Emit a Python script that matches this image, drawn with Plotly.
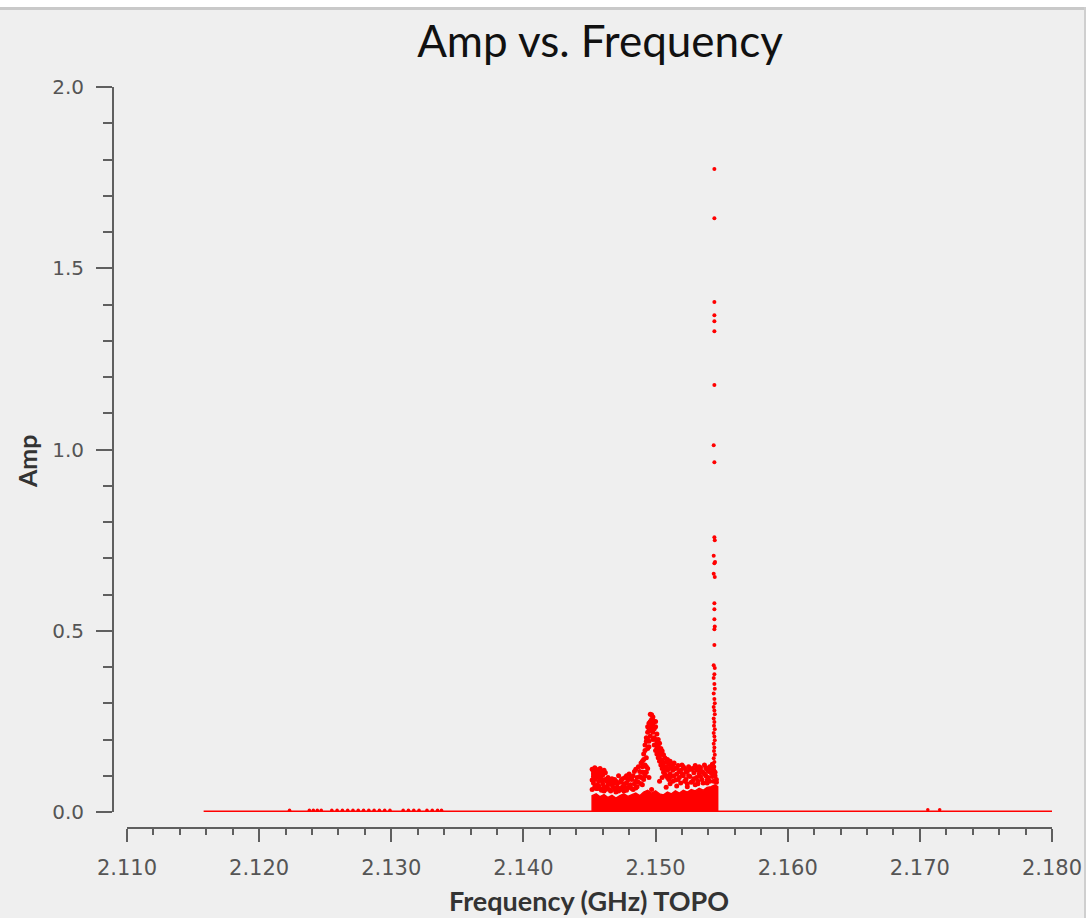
import plotly.graph_objects as go

W, H = 1089, 918

# ---------------- data ----------------
baseline_freq = [2.1158, 2.1800]
baseline_amp = [0.0, 0.0]

low_freq = [2.1223, 2.1238, 2.1241, 2.1244, 2.1247, 2.1255, 2.1259, 2.1263, 2.1267,
            2.1271, 2.1275, 2.1279, 2.1283, 2.1287, 2.1291, 2.1295, 2.1299, 2.1309,
            2.1313, 2.1317, 2.1321, 2.1327, 2.1331, 2.1335, 2.1338, 2.1706, 2.1715]
low_amp = [0.005, 0.005, 0.005, 0.005, 0.005, 0.005, 0.005, 0.005, 0.005,
           0.005, 0.005, 0.005, 0.005, 0.005, 0.005, 0.005, 0.005, 0.005,
           0.005, 0.005, 0.005, 0.005, 0.005, 0.005, 0.005, 0.006, 0.006]

band_freq = [2.1452, 2.1452, 2.1455, 2.1458, 2.1461, 2.1464, 2.1467, 2.1470, 2.1473,
             2.1476, 2.1479, 2.1482, 2.1485, 2.1488, 2.1491, 2.1494, 2.1497, 2.1500,
             2.1503, 2.1506, 2.1509, 2.1512, 2.1515, 2.1518, 2.1521, 2.1524, 2.1527,
             2.1530, 2.1533, 2.1536, 2.1539, 2.1542, 2.1545, 2.1547, 2.1547]
band_amp = [0.000, 0.045, 0.050, 0.042, 0.048, 0.040, 0.046, 0.038, 0.045,
            0.050, 0.043, 0.048, 0.052, 0.045, 0.055, 0.060, 0.052, 0.058,
            0.050, 0.047, 0.055, 0.050, 0.058, 0.052, 0.060, 0.055, 0.062,
            0.058, 0.065, 0.060, 0.068, 0.070, 0.075, 0.070, 0.000]

cloud_freq = [2.1452, 2.1453, 2.1454, 2.1455, 2.1456, 2.1457, 2.1458, 2.1459, 2.1460,
              2.1461, 2.1462, 2.1463, 2.1453, 2.1455, 2.1457, 2.1459, 2.1461, 2.1464,
              2.1465, 2.1466, 2.1467, 2.1468, 2.1469, 2.1470, 2.1471, 2.1472, 2.1473,
              2.1474, 2.1475, 2.1476, 2.1477, 2.1478, 2.1479, 2.1480, 2.1481, 2.1482,
              2.1483, 2.1484, 2.1485, 2.1486, 2.1487, 2.1488, 2.1489, 2.1490, 2.1490,
              2.1491, 2.1491, 2.1492, 2.1492, 2.1493, 2.1493, 2.1494, 2.1494, 2.1495,
              2.1495, 2.1496, 2.1496, 2.1497, 2.1497, 2.1498, 2.1498, 2.1499, 2.1499,
              2.1500, 2.1500, 2.1501, 2.1501, 2.1502, 2.1502, 2.1503, 2.1503, 2.1504,
              2.1504, 2.1505, 2.1505, 2.1506, 2.1506, 2.1507, 2.1508, 2.1508, 2.1509,
              2.1510, 2.1510, 2.1511, 2.1512, 2.1513, 2.1513, 2.1514, 2.1515, 2.1516,
              2.1517, 2.1518, 2.1519, 2.1520, 2.1521, 2.1522, 2.1523, 2.1524, 2.1525,
              2.1526, 2.1527, 2.1528, 2.1529, 2.1530, 2.1531, 2.1532, 2.1533, 2.1534,
              2.1535, 2.1536, 2.1537, 2.1538, 2.1539, 2.1540, 2.1541, 2.1542, 2.1543,
              2.1544, 2.1545, 2.1546, 2.1494, 2.1493, 2.1492, 2.1495, 2.1503, 2.1505,
              2.1456, 2.1470, 2.1478, 2.1485, 2.1497, 2.1508, 2.1516, 2.1524, 2.1532,
              2.1539, 2.1544]
cloud_amp = [0.118, 0.105, 0.122, 0.095, 0.112, 0.085, 0.120, 0.100, 0.078,
             0.115, 0.090, 0.070, 0.080, 0.065, 0.072, 0.060, 0.058, 0.095,
             0.062, 0.082, 0.075, 0.068, 0.090, 0.060, 0.078, 0.100, 0.065,
             0.088, 0.070, 0.058, 0.095, 0.080, 0.066, 0.105, 0.075, 0.090,
             0.062, 0.112, 0.085, 0.070, 0.125, 0.098, 0.078, 0.140, 0.110,
             0.160, 0.090, 0.185, 0.130, 0.205, 0.150, 0.220, 0.175, 0.245,
             0.195, 0.270, 0.210, 0.255, 0.230, 0.262, 0.200, 0.250, 0.185,
             0.235, 0.170, 0.215, 0.160, 0.200, 0.150, 0.190, 0.140, 0.175,
             0.130, 0.168, 0.120, 0.158, 0.110, 0.150, 0.138, 0.100, 0.145,
             0.132, 0.090, 0.140, 0.125, 0.115, 0.085, 0.135, 0.120, 0.105,
             0.128, 0.095, 0.115, 0.130, 0.100, 0.120, 0.090, 0.112, 0.125,
             0.098, 0.118, 0.085, 0.108, 0.128, 0.095, 0.115, 0.105, 0.122,
             0.090, 0.110, 0.130, 0.100, 0.118, 0.095, 0.125, 0.108, 0.132,
             0.115, 0.100, 0.090, 0.120, 0.110, 0.100, 0.095, 0.085, 0.095,
             0.065, 0.055, 0.060, 0.066, 0.062, 0.068, 0.072, 0.070, 0.078,
             0.080, 0.085]

cloud2_freq = [2.1452, 2.1452, 2.1453, 2.1453, 2.1454, 2.1454, 2.1455, 2.1455, 2.1456,
               2.1456, 2.1457, 2.1458, 2.1458, 2.1459, 2.1460, 2.1460, 2.1461, 2.1462,
               2.1462, 2.1463, 2.1464, 2.1465, 2.1466, 2.1467, 2.1468, 2.1469, 2.1470,
               2.1471, 2.1472, 2.1473, 2.1474, 2.1475, 2.1476, 2.1477, 2.1478, 2.1479,
               2.1480, 2.1481, 2.1482, 2.1483, 2.1484, 2.1485, 2.1486, 2.1487, 2.1488,
               2.1489, 2.1489, 2.1490, 2.1490, 2.1491, 2.1491, 2.1492, 2.1492, 2.1493,
               2.1493, 2.1494, 2.1494, 2.1495, 2.1495, 2.1496, 2.1496, 2.1497, 2.1497,
               2.1498, 2.1498, 2.1499, 2.1499, 2.1500, 2.1500, 2.1501, 2.1501, 2.1502,
               2.1502, 2.1503, 2.1503, 2.1504, 2.1504, 2.1505, 2.1506, 2.1506, 2.1507,
               2.1507, 2.1508, 2.1509, 2.1509, 2.1510, 2.1511, 2.1511, 2.1512, 2.1513,
               2.1514, 2.1515, 2.1516, 2.1517, 2.1518, 2.1519, 2.1520, 2.1521, 2.1522,
               2.1523, 2.1524, 2.1525, 2.1526, 2.1527, 2.1528, 2.1529, 2.1530, 2.1531,
               2.1532, 2.1533, 2.1534, 2.1535, 2.1536, 2.1537, 2.1538, 2.1539, 2.1540,
               2.1541, 2.1542, 2.1543, 2.1544, 2.1545, 2.1546]
cloud2_amp = [0.062, 0.088, 0.098, 0.112, 0.070, 0.090, 0.108, 0.118, 0.075,
              0.098, 0.105, 0.065, 0.092, 0.113, 0.088, 0.102, 0.068, 0.108,
              0.062, 0.085, 0.075, 0.088, 0.058, 0.092, 0.080, 0.062, 0.085,
              0.068, 0.058, 0.082, 0.062, 0.092, 0.078, 0.068, 0.100, 0.088,
              0.070, 0.095, 0.065, 0.100, 0.078, 0.118, 0.095, 0.082, 0.112,
              0.135, 0.095, 0.125, 0.075, 0.145, 0.110, 0.170, 0.100, 0.195,
              0.125, 0.235, 0.200, 0.230, 0.180, 0.250, 0.225, 0.268, 0.240,
              0.245, 0.220, 0.230, 0.205, 0.250, 0.200, 0.190, 0.175, 0.185,
              0.165, 0.165, 0.155, 0.160, 0.145, 0.140, 0.135, 0.125, 0.120,
              0.105, 0.125, 0.115, 0.095, 0.120, 0.105, 0.078, 0.098, 0.130,
              0.100, 0.088, 0.122, 0.090, 0.112, 0.080, 0.105, 0.125, 0.085,
              0.110, 0.078, 0.100, 0.118, 0.082, 0.120, 0.092, 0.075, 0.118,
              0.085, 0.125, 0.098, 0.112, 0.080, 0.105, 0.122, 0.088, 0.112,
              0.085, 0.120, 0.098, 0.125, 0.110, 0.082]

spike_freq = [2.15445, 2.15445, 2.15445, 2.15445, 2.15445, 2.15445, 2.15445, 2.15440,
              2.15445, 2.15445, 2.15448, 2.15440, 2.15450, 2.15445, 2.15440, 2.15448,
              2.15445, 2.15445, 2.15445, 2.15448, 2.15445, 2.15445, 2.15440, 2.15448,
              2.15445, 2.15440, 2.15445, 2.15448, 2.15440, 2.15445, 2.15448, 2.15440,
              2.15445, 2.15448, 2.15440, 2.15445, 2.15442, 2.15448, 2.15440, 2.15445,
              2.15448, 2.15440, 2.15445, 2.15442, 2.15448, 2.15440, 2.15445, 2.15435]
spike_amp = [1.774, 1.638, 1.407, 1.370, 1.354, 1.326, 1.178, 1.012,
             0.965, 0.758, 0.750, 0.707, 0.690, 0.686, 0.657, 0.648,
             0.576, 0.559, 0.532, 0.512, 0.504, 0.461, 0.405, 0.397,
             0.380, 0.370, 0.353, 0.340, 0.327, 0.312, 0.300, 0.290,
             0.280, 0.270, 0.258, 0.248, 0.238, 0.228, 0.218, 0.208,
             0.198, 0.188, 0.178, 0.168, 0.158, 0.148, 0.138, 0.128]

x_tickvals = [2.110, 2.120, 2.130, 2.140, 2.150, 2.160, 2.170, 2.180]
x_ticktext = ["2.110", "2.120", "2.130", "2.140", "2.150", "2.160", "2.170", "2.180"]
y_tickvals = [0.0, 0.5, 1.0, 1.5, 2.0]
y_ticktext = ["0.0", "0.5", "1.0", "1.5", "2.0"]

# ---------------- layout helpers (pixel -> paper) ----------------
def px(x):
    return x / W

def py(y):
    return 1 - y / H

RED = "#ff0000"
AXIS = "#5f5f5f"
BG = "#efefef"

fig = go.Figure()

fig.add_trace(go.Scatter(x=baseline_freq, y=baseline_amp, mode="lines",
                         line=dict(color=RED, width=3), cliponaxis=False,
                         hoverinfo="skip", showlegend=False))
fig.add_trace(go.Scatter(x=low_freq, y=low_amp, mode="markers",
                         marker=dict(color=RED, size=3.5, line=dict(width=0)),
                         cliponaxis=False, showlegend=False))
fig.add_trace(go.Scatter(x=band_freq, y=band_amp, mode="lines", fill="toself",
                         fillcolor=RED, line=dict(color=RED, width=1.5),
                         cliponaxis=False, showlegend=False))
fig.add_trace(go.Scatter(x=cloud_freq, y=cloud_amp, mode="markers",
                         marker=dict(color=RED, size=5, line=dict(width=0)),
                         cliponaxis=False, showlegend=False))
fig.add_trace(go.Scatter(x=cloud2_freq, y=cloud2_amp, mode="markers",
                         marker=dict(color=RED, size=5, line=dict(width=0)),
                         cliponaxis=False, showlegend=False))
fig.add_trace(go.Scatter(x=spike_freq, y=spike_amp, mode="markers",
                         marker=dict(color=RED, size=4, line=dict(width=0)),
                         cliponaxis=False, showlegend=False))

fig.update_layout(
    width=W, height=H,
    margin=dict(l=0, r=0, t=0, b=0, autoexpand=False),
    paper_bgcolor=BG, plot_bgcolor=BG,
    showlegend=False,
    title=dict(text="Amp vs. Frequency", x=px(600), y=py(42),
               xanchor="center", yanchor="middle", xref="paper", yref="paper",
               automargin=False,
               font=dict(family="Lato", size=44, color="#111111")),
    xaxis=dict(
        domain=[px(127), px(1052)], range=[2.110, 2.180],
        anchor="free", position=py(828), automargin=False,
        showgrid=False, zeroline=False,
        showline=True, linecolor=AXIS, linewidth=2,
        tickmode="array", tickvals=x_tickvals, ticktext=x_ticktext,
        ticks="outside", ticklen=13, tickwidth=2, tickcolor=AXIS,
        ticklabelstandoff=8,
        tickfont=dict(family="DejaVu Sans", size=21, color="#555555"),
        minor=dict(dtick=0.002, tick0=2.110, ticks="outside", ticklen=6,
                   tickwidth=2, tickcolor=AXIS, showgrid=False),
    ),
    yaxis=dict(
        domain=[py(812), py(87)], range=[0.0, 2.0],
        anchor="free", position=px(113), automargin=False,
        showgrid=False, zeroline=False,
        showline=True, linecolor=AXIS, linewidth=2,
        tickmode="array", tickvals=y_tickvals, ticktext=y_ticktext,
        ticks="outside", ticklen=16, tickwidth=2, tickcolor=AXIS,
        ticklabelstandoff=8,
        tickfont=dict(family="DejaVu Sans", size=20, color="#555555"),
        minor=dict(dtick=0.1, tick0=0.0, ticks="outside", ticklen=9,
                   tickwidth=2, tickcolor=AXIS, showgrid=False),
    ),
    annotations=[
        dict(text="<b>Frequency (GHz) TOPO</b>", x=px(589), y=py(900),
             xref="paper", yref="paper", xanchor="center", yanchor="middle",
             showarrow=False, font=dict(family="Lato", size=27, color="#333333")),
        dict(text="<b>Amp</b>", x=px(27), y=py(462), textangle=-90,
             xref="paper", yref="paper", xanchor="center", yanchor="middle",
             showarrow=False, font=dict(family="Lato", size=25, color="#333333")),
    ],
    shapes=[
        dict(type="rect", xref="paper", yref="paper", x0=0, x1=1, y0=py(7), y1=1,
             fillcolor="white", line=dict(width=0), layer="above"),
        dict(type="rect", xref="paper", yref="paper", x0=0, x1=1, y0=py(10), y1=py(7),
             fillcolor="#c9c9c9", line=dict(width=0), layer="above"),
        dict(type="rect", xref="paper", yref="paper", x0=px(1086), x1=1, y0=0, y1=1,
             fillcolor="white", line=dict(width=0), layer="above"),
        dict(type="rect", xref="paper", yref="paper", x0=px(1084), x1=px(1086), y0=0, y1=py(7),
             fillcolor="#cfcfcf", line=dict(width=0), layer="above"),
    ],
)

fig.write_html("out.html")
